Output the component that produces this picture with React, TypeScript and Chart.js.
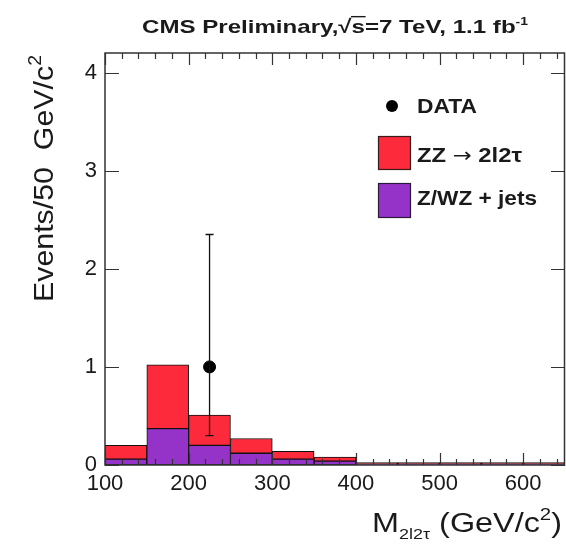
import React, { useEffect, useRef } from "react";
import { Chart, registerables } from "chart.js";

Chart.register(...registerables);

// ---- data ----
const binCenters = [125, 175, 225, 275, 325, 375, 425, 475, 525, 575, 625];
const zjetsValues = [0.06, 0.37, 0.2, 0.12, 0.06, 0.04, 0.012, 0.012, 0.012, 0.012, 0.012];
const zzValues = [0.14, 0.65, 0.31, 0.15, 0.08, 0.04, 0.012, 0.012, 0.012, 0.012, 0.012];
const dataX = [225];
const dataY = [1];
const dataErrLow = [0.3];
const dataErrHigh = [2.35];
const xTickValues = [100, 200, 300, 400, 500, 600];
const yTickValues = [0, 1, 2, 3, 4];
const legendLabels = ["DATA", "ZZ \u2192 2l2\u03C4", "Z/WZ + jets"];

const RED = "#fc2a3a";
const PURPLE = "#9533c9";
const FONT = "'Liberation Sans', Arial, sans-serif";
const INK = "#1a1a1a";

type Seg = { t: string; font: string; dy?: number; overline?: boolean };

function drawRich(
  ctx: CanvasRenderingContext2D,
  segs: Seg[],
  x: number,
  y: number,
  align: "left" | "center" | "right",
  width?: number,
  rotate?: boolean
) {
  const widths = segs.map((s) => {
    ctx.font = s.font;
    return ctx.measureText(s.t).width;
  });
  const total = widths.reduce((a, b) => a + b, 0);
  const sx = width ? width / total : 1;
  ctx.save();
  ctx.translate(x, y);
  if (rotate) ctx.rotate(-Math.PI / 2);
  ctx.scale(sx, 1);
  ctx.textAlign = "left";
  ctx.textBaseline = "alphabetic";
  ctx.fillStyle = INK;
  ctx.strokeStyle = INK;
  let cx = align === "left" ? 0 : align === "center" ? -total / 2 : -total;
  segs.forEach((s, i) => {
    ctx.font = s.font;
    ctx.fillText(s.t, cx, s.dy || 0);
    if (s.overline) {
      const size = parseFloat(s.font.replace(/^[^0-9]*/, ""));
      ctx.lineWidth = 1.4;
      ctx.beginPath();
      ctx.moveTo(cx - 0.5, -size * 0.86);
      ctx.lineTo(cx + widths[i] + 0.5, -size * 0.86);
      ctx.stroke();
    }
    cx += widths[i];
  });
  ctx.restore();
}

const decorPlugin = {
  id: "decor",
  afterDatasetsDraw(chart: any) {
    const ctx: CanvasRenderingContext2D = chart.ctx;
    const xs = chart.scales.x;
    const ys = chart.scales.y;
    const { left, right, top, bottom } = chart.chartArea;

    // error bars
    ctx.save();
    ctx.strokeStyle = "#111";
    ctx.lineWidth = 1.3;
    dataX.forEach((xv, i) => {
      const px = xs.getPixelForValue(xv);
      const y1 = ys.getPixelForValue(dataErrLow[i]);
      const y2 = ys.getPixelForValue(dataErrHigh[i]);
      ctx.beginPath();
      ctx.moveTo(px, y1);
      ctx.lineTo(px, y2);
      ctx.moveTo(px - 4, y1);
      ctx.lineTo(px + 4, y1);
      ctx.moveTo(px - 4, y2);
      ctx.lineTo(px + 4, y2);
      ctx.stroke();
    });
    ctx.restore();

    // inward ticks
    ctx.save();
    ctx.strokeStyle = "#333";
    ctx.lineWidth = 1.2;
    ctx.beginPath();
    for (let v = 100; v <= 640; v += 20) {
      const px = Math.round(xs.getPixelForValue(v)) + 0.5;
      const len = v % 100 === 0 ? 12 : 6;
      ctx.moveTo(px, bottom);
      ctx.lineTo(px, bottom - len);
      ctx.moveTo(px, top);
      ctx.lineTo(px, top + len);
    }
    yTickValues.forEach((v) => {
      const py = Math.round(ys.getPixelForValue(v)) + 0.5;
      ctx.moveTo(left, py);
      ctx.lineTo(left + 14, py);
      ctx.moveTo(right, py);
      ctx.lineTo(right - 14, py);
    });
    ctx.stroke();
    // frame
    ctx.lineWidth = 1.5;
    ctx.strokeStyle = "#333";
    ctx.strokeRect(left, top, right - left - 0.5, bottom - top);
    ctx.restore();
  },
  afterDraw(chart: any) {
    const ctx: CanvasRenderingContext2D = chart.ctx;
    // title
    const tb = `bold 19px ${FONT}`;
    drawRich(
      ctx,
      [
        { t: "CMS Preliminary,", font: tb },
        { t: "\u221A", font: tb },
        { t: "s", font: tb, overline: true },
        { t: "=7 TeV, 1.1 fb", font: tb },
        { t: "-1", font: `bold 11px ${FONT}`, dy: -8 },
      ],
      142,
      33,
      "left",
      386
    );

    // y title
    drawRich(
      ctx,
      [
        { t: "Events/50  GeV/c", font: `28px ${FONT}` },
        { t: "2", font: `18px ${FONT}`, dy: -12 },
      ],
      53,
      55,
      "right",
      247,
      true
    );

    // x title
    drawRich(
      ctx,
      [
        { t: "M", font: `27px ${FONT}` },
        { t: "2l2\u03C4", font: `15px ${FONT}`, dy: 7 },
        { t: " (GeV/c", font: `27px ${FONT}` },
        { t: "2", font: `17px ${FONT}`, dy: -12 },
        { t: ")", font: `27px ${FONT}` },
      ],
      562,
      532,
      "right",
      190
    );

    // legend
    ctx.save();
    ctx.fillStyle = "#000";
    ctx.beginPath();
    ctx.arc(392, 106, 6, 0, Math.PI * 2);
    ctx.fill();
    ctx.lineWidth = 1.2;
    ctx.strokeStyle = "#3a1a1a";
    ctx.fillStyle = RED;
    ctx.fillRect(378, 136, 32, 33);
    ctx.strokeRect(378.5, 136.5, 32, 33);
    ctx.strokeStyle = "#2a1a3a";
    ctx.fillStyle = PURPLE;
    ctx.fillRect(378, 183, 32, 34);
    ctx.strokeRect(378.5, 183.5, 32, 34);
    ctx.restore();
    const lb = `bold 21px ${FONT}`;
    drawRich(ctx, [{ t: legendLabels[0], font: lb }], 417, 113, "left", 60);
    drawRich(
      ctx,
      [
        { t: "ZZ ", font: lb },
        { t: "\u2192", font: `20px 'DejaVu Sans', sans-serif` },
        { t: " 2l2\u03C4", font: lb },
      ],
      417,
      162,
      "left",
      105
    );
    drawRich(ctx, [{ t: legendLabels[2], font: lb }], 417, 205, "left", 120);
  },
};

export default function App() {
  const ref = useRef<HTMLCanvasElement | null>(null);
  useEffect(() => {
    if (!ref.current) return;
    const chart = new Chart(ref.current, {
      type: "bar",
      data: {
        datasets: [
          {
            type: "scatter",
            label: legendLabels[0],
            data: dataX.map((x, i) => ({ x, y: dataY[i] })),
            backgroundColor: "#000",
            borderColor: "#000",
            pointRadius: 6,
            pointHoverRadius: 6,
            stack: "data",
          } as any,
          {
            label: legendLabels[2],
            data: binCenters.map((x, i) => ({ x, y: zjetsValues[i] })),
            backgroundColor: PURPLE,
            borderColor: "#111",
            borderWidth: 1,
            borderSkipped: false,
            stack: "mc",
          },
          {
            label: legendLabels[1],
            data: binCenters.map((x, i) => ({ x, y: zzValues[i] })),
            backgroundColor: RED,
            borderColor: "#111",
            borderWidth: 1,
            borderSkipped: false,
            stack: "mc",
          },
        ],
      },
      options: {
        animation: false,
        responsive: false,
        devicePixelRatio: 1,
        categoryPercentage: 1,
        barPercentage: 1,
        layout: { autoPadding: false, padding: { top: 53, right: 1, left: 0, bottom: 0 } },
        plugins: {
          legend: { display: false },
          title: { display: false },
          tooltip: { enabled: false },
        },
        scales: {
          x: {
            type: "linear",
            min: 100,
            max: 650,
            offset: false,
            stacked: true,
            grid: { display: false, drawTicks: false, offset: false },
            border: { display: false },
            afterBuildTicks: (s: any) => {
              s.ticks = xTickValues.map((v) => ({ value: v }));
            },
            afterFit: (s: any) => {
              s.height = 81;
              s.paddingRight = 0;
              s.paddingLeft = 0;
            },
            ticks: {
              padding: 6,
              maxRotation: 0,
              autoSkip: false,
              color: INK,
              font: { family: FONT, size: 22 },
            },
          },
          y: {
            min: 0,
            max: 4.2,
            stacked: true,
            grid: { display: false, drawTicks: false },
            border: { display: false },
            afterBuildTicks: (s: any) => {
              s.ticks = yTickValues.map((v) => ({ value: v }));
            },
            afterFit: (s: any) => {
              s.width = 105;
            },
            ticks: {
              padding: 8,
              color: INK,
              font: { family: FONT, size: 22 },
            },
          },
        },
      } as any,
      plugins: [decorPlugin],
    });
    return () => chart.destroy();
  }, []);
  return (
    <div style={{ position: "absolute", left: 0, top: 0, width: 566, height: 546, background: "#fff" }}>
      <canvas ref={ref} width={566} height={546} style={{ display: "block" }} />
    </div>
  );
}
